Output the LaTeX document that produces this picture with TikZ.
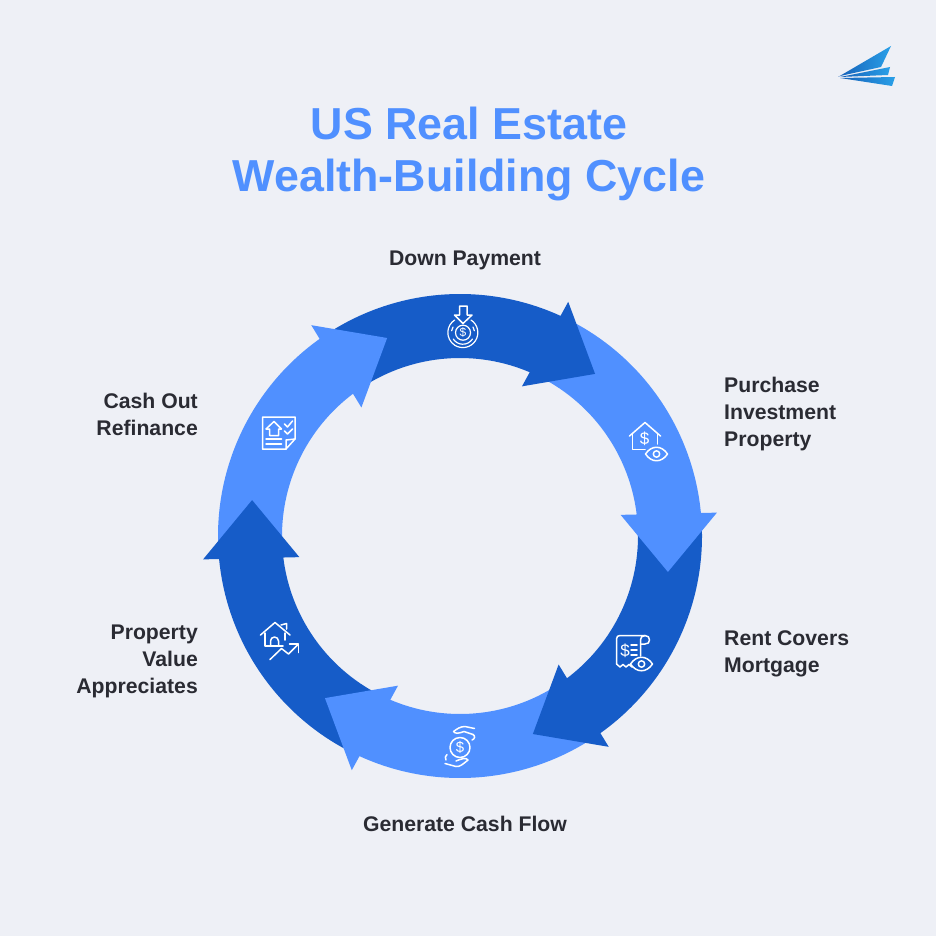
\documentclass[tikz,border=0pt]{standalone}
\usepackage{fontspec}
\setmainfont{Liberation Sans}
\usepackage{tikz}
\usetikzlibrary{positioning}

\definecolor{pagebg}{HTML}{EEF0F6}
\definecolor{lightring}{HTML}{5090FF}
\definecolor{darkring}{HTML}{165CC8}
\definecolor{labelink}{HTML}{2A2B33}
\definecolor{logodark}{HTML}{1560B8}
\definecolor{logolight}{HTML}{2AA0E8}

\tikzset{
  cyclelabel/.style={font=\bfseries\fontsize{21.2}{27}\selectfont, text=labelink, inner sep=0pt},
  iconline/.style={draw=white, line width=1.5pt, line cap=round, line join=round},
  dollar/.style={font=\fontsize{#1}{#1}\selectfont, text=white, inner sep=0pt},
}

% band and head of one ring arrow, turned clockwise by #2
\newcommand{\ringband}[2]{\fill[#1, rotate=-#2] (123:242) arc[start angle=123, end angle=65, radius=242] -- (66.5:178) arc[start angle=66.5, end angle=123, radius=178] -- cycle;}
\newcommand{\ringhead}[2]{\fill[#1, rotate=-#2] (65.2:258) -- (50.2:211) -- (67.5:162) -- cycle;}
% eye used by two of the icons
\newcommand{\eyeicon}[2]{%
  \draw[iconline] (#1-11,#2) .. controls (#1-5,#2-9) and (#1+5,#2-9) .. (#1+11,#2) .. controls (#1+5,#2+9) and (#1-5,#2+9) .. cycle;
  \draw[iconline] (#1,#2) circle (3.2);}

\begin{document}
\begin{tikzpicture}[x=1pt, y=-1pt]

\fill[pagebg] (0,0) rectangle (936,936);

% Logo
\shade[left color=logodark, right color=logolight] (838,77) -- (891,46) -- (881,67) -- (840,76) -- cycle;
\shade[left color=logodark, right color=logolight] (840,77) -- (890,67) -- (888,75) -- cycle;
\shade[left color=logodark, right color=logolight] (840,78) -- (895,77) -- (892,86) -- cycle;

% Title
\node (title) [font=\bfseries\fontsize{44.8}{52}\selectfont, text=lightring, align=center, inner sep=0pt] at (469,154.5) {US Real Estate\\Wealth-Building Cycle};

% Ring
\begin{scope}[shift={(460,536)}, y=1pt]
  \foreach \i/\col in {0/darkring, 1/lightring, 2/darkring, 3/lightring, 4/darkring, 5/lightring}
    \ringband{\col}{60*\i};
  \foreach \i/\col in {0/darkring, 1/lightring, 2/darkring, 3/lightring, 4/darkring, 5/lightring}
    \ringhead{\col}{60*\i};
\end{scope}

% Icons
% Down Payment
\draw[iconline] (459.5,306) -- (467,306) -- (467,315) -- (472,315) -- (463,323.5) -- (454.5,315) -- (459.5,315) -- cycle;
\draw[iconline, line width=1.2pt] (471,320) arc[start angle=-57, end angle=237, radius=15];
\draw[iconline, line width=1.2pt] (472.5,339) arc[start angle=33, end angle=147, radius=11.5];
\draw[iconline, line width=1.2pt] (453,327) arc[start angle=210, end angle=190, radius=11.5];
\draw[iconline, line width=1.2pt] (473,327) arc[start angle=-30, end angle=-10, radius=11.5];
\draw[iconline, line width=1.2pt] (463,332.7) circle (7.5);
\node (dollardown) [dollar=12] at (463,332.7) {\$};

% Purchase Investment Property
\draw[iconline] (629.5,436) -- (645,422.5) -- (660.5,436);
\draw[iconline] (632.5,434) -- (632.5,449.5) -- (645,449.5);
\draw[iconline] (657.5,434) -- (657.5,444);
\node (dollarhouse) [dollar=17] at (644.5,439) {\$};
\eyeicon{656.5}{454}

% Rent Covers Mortgage
\draw[iconline] (616.5,664) -- (616.5,639) .. controls (616.5,636.5) and (618,635.5) .. (620,635.5) -- (645,635.5) .. controls (648,635.5) and (649.5,637.5) .. (649.5,640) .. controls (649.5,642.5) and (648,644) .. (645,644) -- (640.5,644);
\draw[iconline] (645,635.5) .. controls (642,635.5) and (640.5,637.5) .. (640.5,640) -- (640.5,656);
\draw[iconline] (616.5,664) -- (620,667) -- (623,664.5) -- (626,667) -- (629,664.5) -- (632,667);
\node (dollarbill) [dollar=17] at (625,651) {\$};
\draw[iconline] (631,645) -- (637,645);
\draw[iconline] (631,650) -- (637,650);
\draw[iconline] (631,655) -- (637,655);
\eyeicon{641.5}{664}

% Generate Cash Flow
\draw[iconline] (460,747.5) circle (10);
\node (dollarcoin) [dollar=15] at (460,747.5) {\$};
\draw[iconline] (474.5,728.5) -- (465,726.5) .. controls (460,726.5) and (457,729) .. (453.5,731.5) .. controls (455,734) and (459,733.5) .. (464,731.5) -- (473,734.5);
\draw[iconline] (473,734.5) .. controls (475.5,736) and (475,739) .. (472,740);
\draw[iconline] (445,763.5) -- (456,766.5) .. controls (460,767) and (463,764) .. (468,760) .. controls (466,757) and (461,759) .. (456,761);
\draw[iconline] (447,754.5) .. controls (445,756) and (445,758) .. (446,760);

% Property Value Appreciates
\draw[iconline] (260.5,635) -- (275,622.5) -- (290,635);
\draw[iconline] (281,625) -- (286.5,623.5) -- (286.5,629);
\draw[iconline] (265,633) -- (265,646) -- (283,646);
\draw[iconline] (285,633) -- (285,640);
\draw[iconline] (270.5,646) -- (270.5,641) arc[start angle=180, end angle=360, radius=4] -- (278.5,646);
\draw[iconline] (270,659.5) -- (281.5,648.5) -- (288.5,654) -- (298,644.5);
\draw[iconline] (289.5,644) -- (298.5,644) -- (298.5,652.5);

% Cash Out Refinance
\draw[iconline] (286,449) -- (262.5,449) -- (262.5,417) -- (295,417) -- (295,439) -- cycle;
\draw[iconline] (286,449) -- (286,440) -- (295,439);
\draw[iconline] (266,429) -- (274,421.5) -- (281.5,429) -- (278.5,429) -- (278.5,435.5) -- (269.5,435.5) -- (269.5,429) -- cycle;
\draw[iconline] (266,439) -- (281.5,439);
\draw[iconline] (266,444) -- (281.5,444);
\draw[iconline] (284.5,424) -- (287.5,427) -- (292.5,421);
\draw[iconline] (284.5,431) -- (287.5,434) -- (292.5,429);

% Labels
\node (downpayment) [cyclelabel] at (465,260.5) {Down Payment};
\node (purchase) [cyclelabel, align=left, anchor=west] at (724,414) {Purchase\\Investment\\Property};
\node (rent) [cyclelabel, align=left, anchor=west] at (724,654) {Rent Covers\\Mortgage};
\node (cashflow) [cyclelabel] at (465,824) {Generate Cash Flow};
\node (appreciates) [cyclelabel, align=right, anchor=east] at (198,661) {Property\\Value\\Appreciates};
\node (refinance) [cyclelabel, align=right, anchor=east] at (198,414.5) {Cash Out\\Refinance};

\end{tikzpicture}
\end{document}
